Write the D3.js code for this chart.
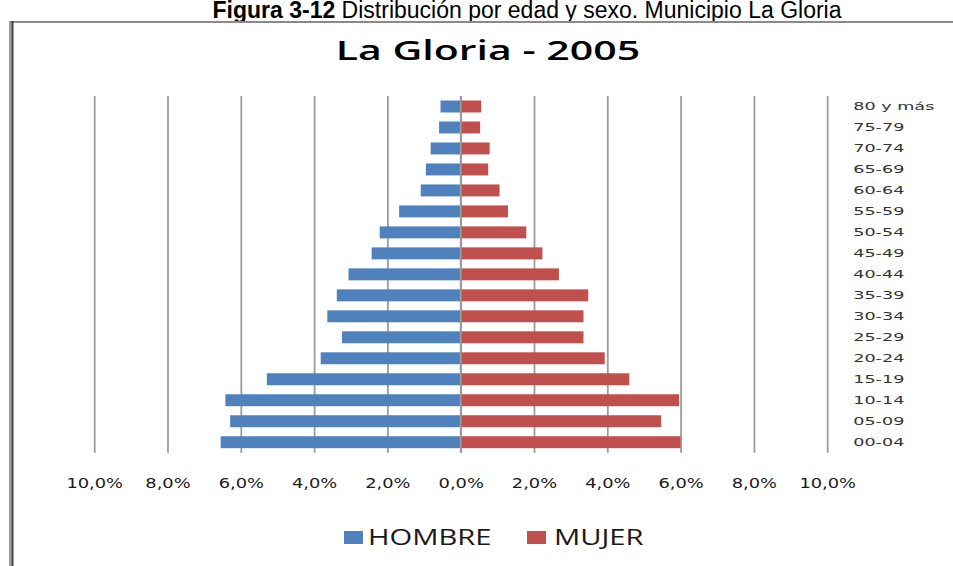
<!DOCTYPE html>
<html>
<head>
<meta charset="utf-8">
<script src="https://cdn.jsdelivr.net/npm/d3@7"></script>
<style>
  body { margin: 0; background: #fff; }
  svg { display: block; }
</style>
</head>
<body>
<svg id="chart" width="953" height="566"></svg>
<script>
// Age groups, top of the pyramid first
const ageGroups = ["80 y más", "75-79", "70-74", "65-69", "60-64", "55-59", "50-54", "45-49",
                   "40-44", "35-39", "30-34", "25-29", "20-24", "15-19", "10-14", "05-09", "00-04"];
// Share of the total population (%), same order as ageGroups
const hombre = [0.55, 0.59, 0.82, 0.95, 1.09, 1.68, 2.21, 2.43, 3.06, 3.38, 3.64, 3.24, 3.82, 5.29, 6.42, 6.29, 6.55];
const mujer  = [0.56, 0.53, 0.79, 0.75, 1.06, 1.29, 1.79, 2.23, 2.68, 3.48, 3.35, 3.35, 3.93, 4.60, 5.96, 5.47, 6.00];
const tickValues = [-10, -8, -6, -4, -2, 0, 2, 4, 6, 8, 10];
const seriesNames = ["HOMBRE", "MUJER"];
const seriesColors = ["#4F81BD", "#C0504D"];
const chartTitle = "La Gloria - 2005";
const captionBold = "Figura 3-12";
const captionText = " Distribución por edad y sexo. Municipio La Gloria";

const svg = d3.select("#chart");

// Widen a text element horizontally by factor k
function stretch(sel, k) {
  sel.each(function () {
    const w = this.getComputedTextLength();
    this.setAttribute("textLength", w * k);
    this.setAttribute("lengthAdjust", "spacingAndGlyphs");
  });
}

// Document caption above the framed chart
const cap = svg.append("text")
  .attr("x", 527).attr("y", 17.5)
  .attr("text-anchor", "middle")
  .style("font-family", "'Liberation Sans', Arial, sans-serif")
  .style("font-size", "23px")
  .attr("fill", "#000");
cap.append("tspan").style("font-weight", "bold").text(captionBold);
cap.append("tspan").text(captionText);

// Chart frame (top and left edges)
svg.append("line").attr("x1", 10).attr("x2", 953).attr("y1", 22).attr("y2", 22)
  .attr("stroke", "#8a8a8a").attr("stroke-width", 2);
svg.append("rect").attr("x", 9).attr("y", 21).attr("width", 2.5).attr("height", 545).attr("fill", "#9a9a9a");
svg.append("rect").attr("x", 11.5).attr("y", 21).attr("width", 2).attr("height", 545).attr("fill", "#404040");

// Title
svg.append("text")
  .attr("x", 488).attr("y", 60)
  .attr("text-anchor", "middle")
  .style("font-family", "'Open Sans', sans-serif")
  .style("font-weight", 600)
  .style("font-size", "27px")
  .attr("fill", "#000")
  .text(chartTitle)
  .call(stretch, 1.52);

// Scales
const plotTop = 96, plotBottom = 452.7;
const x = d3.scaleLinear().domain([-10, 10]).range([94.2, 827.2]);
const y = d3.scaleBand().domain(ageGroups).range([plotTop, plotBottom])
  .paddingInner(0.43).paddingOuter(0.215);

// Vertical gridlines
const grid = svg.append("g")
  .attr("transform", `translate(0,${plotBottom})`)
  .call(d3.axisBottom(x).tickValues(tickValues).tickSize(-(plotBottom - plotTop)).tickFormat(""));
grid.select(".domain").remove();
grid.selectAll(".tick line").attr("stroke", "#9c9c9c").attr("stroke-width", 1.8);

// Bars
svg.append("g").selectAll("rect")
  .data(ageGroups.map((g, i) => ({ g, v: hombre[i] })))
  .join("rect")
  .attr("x", d => x(-d.v))
  .attr("y", d => y(d.g))
  .attr("width", d => x(0) - x(-d.v))
  .attr("height", y.bandwidth())
  .attr("fill", seriesColors[0]);

svg.append("g").selectAll("rect")
  .data(ageGroups.map((g, i) => ({ g, v: mujer[i] })))
  .join("rect")
  .attr("x", x(0))
  .attr("y", d => y(d.g))
  .attr("width", d => x(d.v) - x(0))
  .attr("height", y.bandwidth())
  .attr("fill", seriesColors[1]);

// Zero line over the bars
svg.append("line")
  .attr("x1", x(0)).attr("x2", x(0)).attr("y1", plotTop).attr("y2", plotBottom)
  .attr("stroke", "#9c9c9c").attr("stroke-width", 1.8);

// Percentage axis labels (absolute values on both sides)
const fmt = v => Math.abs(v).toFixed(1).replace(".", ",") + "%";
const xAxis = svg.append("g")
  .attr("transform", "translate(0,478)")
  .call(d3.axisBottom(x).tickValues(tickValues).tickSize(0).tickPadding(0).tickFormat(fmt));
xAxis.select(".domain").remove();
xAxis.selectAll("text")
  .attr("dy", "0.71em")
  .style("font-family", "'DejaVu Sans', sans-serif")
  .style("font-size", "13.5px")
  .attr("fill", "#1a1a1a")
  .call(stretch, 1.32);

// Age group labels on the right
const yAxis = svg.append("g")
  .attr("transform", `translate(${x(10)},0)`)
  .call(d3.axisRight(y).tickSize(0).tickPadding(26));
yAxis.select(".domain").remove();
yAxis.selectAll("text")
  .style("font-family", "'DejaVu Sans', sans-serif")
  .style("font-size", "11px")
  .attr("fill", "#333")
  .call(stretch, 1.6);

// Legend
const legendItems = [
  { name: seriesNames[0], color: seriesColors[0], sx: 344, tx: 368 },
  { name: seriesNames[1], color: seriesColors[1], sx: 527, tx: 554 }
];
const legend = svg.append("g");
legendItems.forEach(it => {
  legend.append("rect").attr("x", it.sx).attr("y", 531).attr("width", 19).attr("height", 13).attr("fill", it.color);
  legend.append("text")
    .attr("x", it.tx).attr("y", 545)
    .style("font-family", "'Open Sans', sans-serif")
    .style("font-size", "21px")
    .attr("fill", "#1a1a1a")
    .text(it.name)
    .call(stretch, 1.39);
});
</script>
</body>
</html>
